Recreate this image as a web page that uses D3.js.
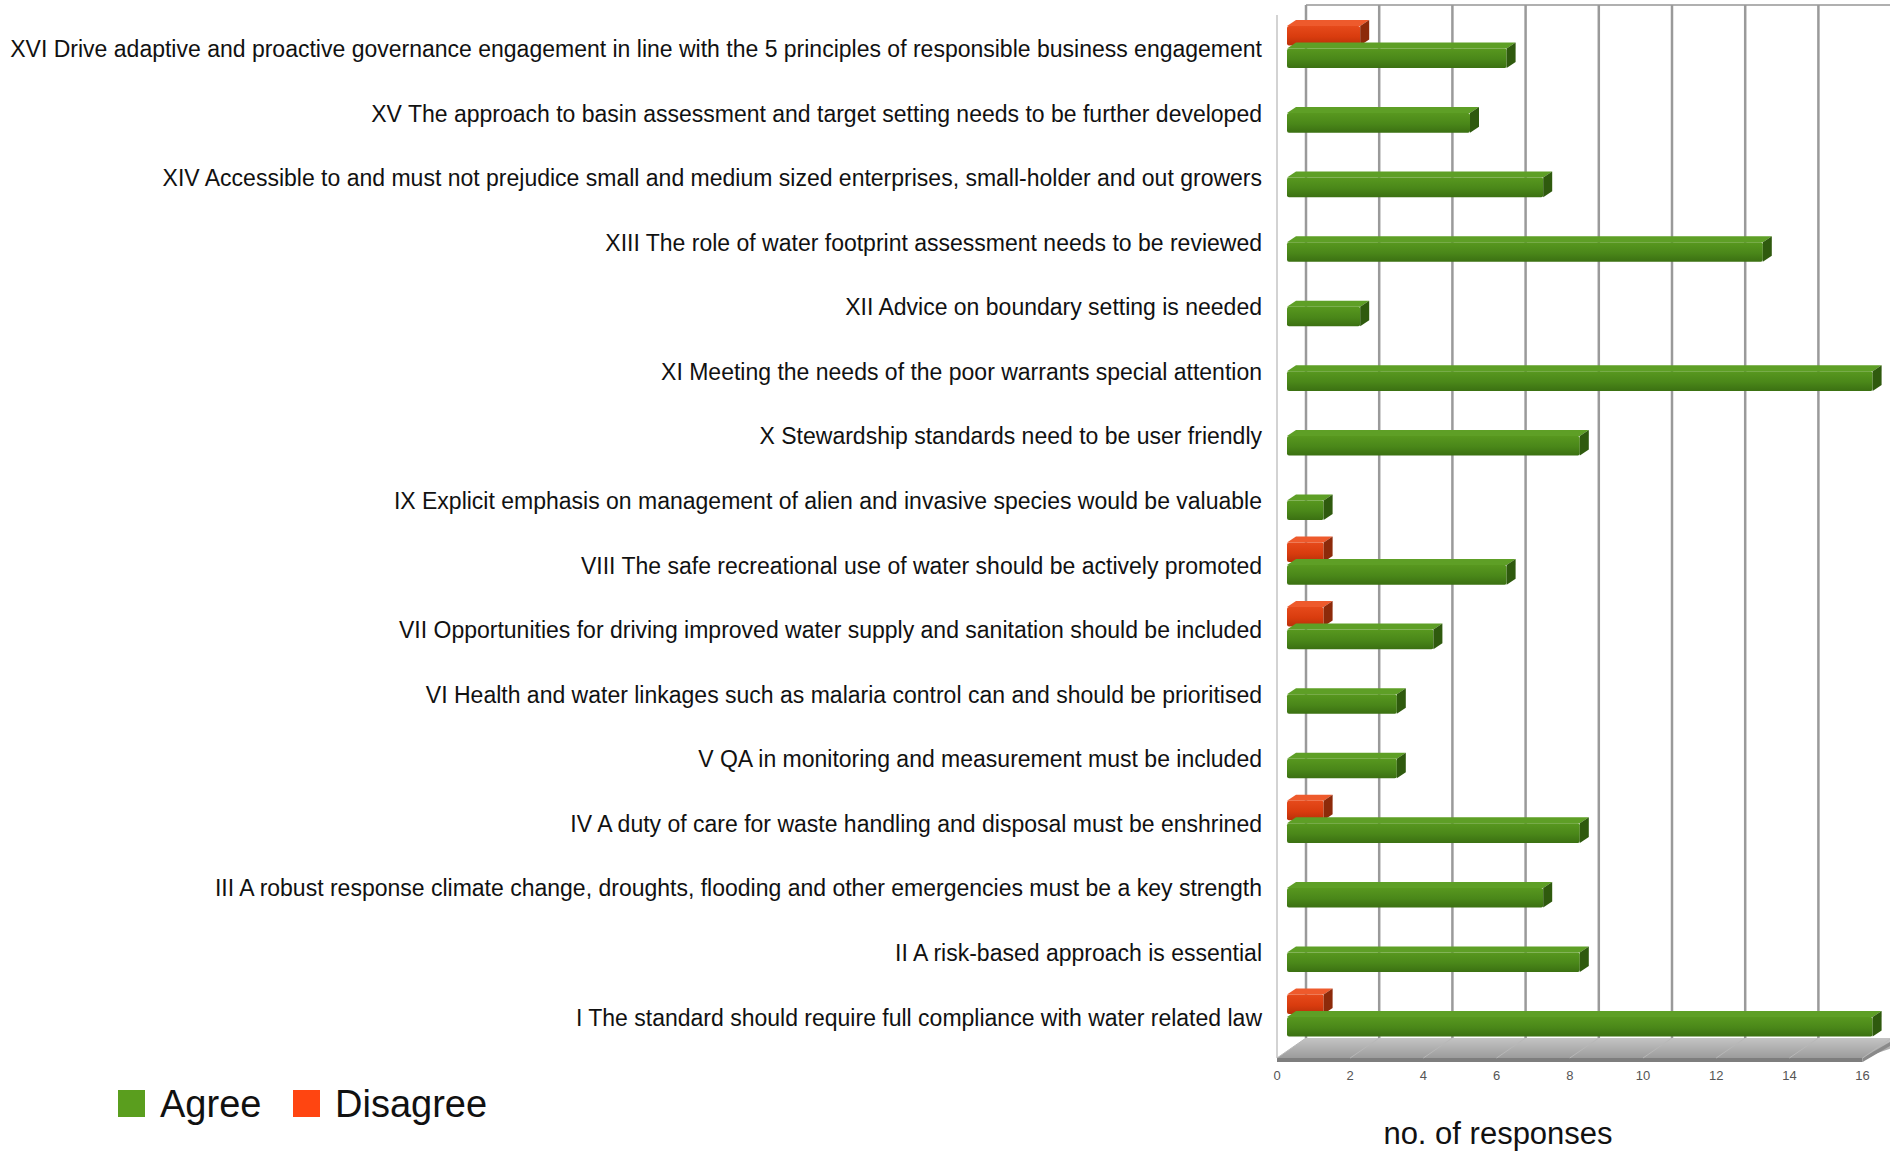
<!DOCTYPE html>
<html>
<head>
<meta charset="utf-8">
<script src="https://cdn.jsdelivr.net/npm/d3@7"></script>
<style>
  body { margin: 0; background: #ffffff; }
  svg text { font-family: "Liberation Sans", Arial, sans-serif; }
</style>
</head>
<body>
<div id="svgContainer"></div>
<script>
// data, top row first
var categories = [
    "XVI Drive adaptive and proactive governance engagement in line with the 5 principles of responsible business engagement",
    "XV The approach to basin assessment and target setting needs to be further developed",
    "XIV Accessible to and must not prejudice small and medium sized enterprises, small-holder and out growers",
    "XIII The role of water footprint assessment needs to be reviewed",
    "XII Advice on boundary setting is needed",
    "XI Meeting the needs of the poor warrants special attention",
    "X Stewardship standards need to be user friendly",
    "IX Explicit emphasis on management of alien and invasive species would be valuable",
    "VIII The safe recreational use of water should be actively promoted",
    "VII Opportunities for driving improved water supply and sanitation should be included",
    "VI Health and water linkages such as malaria control can and should be prioritised",
    "V QA in monitoring and measurement must be included",
    "IV A duty of care for waste handling and disposal must be enshrined",
    "III A robust response climate change, droughts, flooding and other emergencies must be a key strength",
    "II A risk-based approach is essential",
    "I The standard should require full compliance with water related law"
];
var agree    = [6, 5, 7, 13, 2, 16, 8, 1, 6, 4, 3, 3, 8, 7, 8, 16];
var disagree = [2, 0, 0, 0,  0, 0,  0, 0, 1, 1, 0, 0, 1, 0, 0, 1];
var seriesNames = ["Disagree", "Agree"];
var tickValues = [0, 2, 4, 6, 8, 10, 12, 14, 16];
var axisTitle = "no. of responses";

// layout
var width = 1890;
var height = 1153;
var frontX = 1277;      // front edge of the 3d box
var barX = 1287;        // bars sit a bit deeper in the box
var backX = 1306;       // back wall
var wallTop = 5;
var floorBack = 1038;
var floorFront = 1058;
var depthX = 9, depthY = 6;   // bar depth

var colors = {
    Agree:    { top: "#5e9f26", front: ["#58981f", "#4a8719", "#3b7012"], side: "#2f5a0e", legend: "#5a9e1e" },
    Disagree: { top: "#ee5a2c", front: ["#e64a1b", "#d93c0e", "#b93009"], side: "#8d2a0a", legend: "#ff4511" }
};

var svg = d3.select("#svgContainer")
    .append("svg")
    .attr("width", width)
    .attr("height", height);

var defs = svg.append("defs");
seriesNames.forEach(function (s) {
    var g = defs.append("linearGradient")
        .attr("id", "grad" + s)
        .attr("x1", 0).attr("y1", 0).attr("x2", 0).attr("y2", 1);
    g.append("stop").attr("offset", "0%").attr("stop-color", colors[s].front[0]);
    g.append("stop").attr("offset", "55%").attr("stop-color", colors[s].front[1]);
    g.append("stop").attr("offset", "100%").attr("stop-color", colors[s].front[2]);
});
var fg = defs.append("linearGradient")
    .attr("id", "floorGrad")
    .attr("x1", 0).attr("y1", 0).attr("x2", 0).attr("y2", 1);
fg.append("stop").attr("offset", "0%").attr("stop-color", "#c4c4c4");
fg.append("stop").attr("offset", "100%").attr("stop-color", "#9c9c9c");

var x = d3.scaleLinear().domain([0, 16]).range([0, 585.6]);

var y = d3.scaleBand()
    .domain(categories)
    .range([10.2, 1043.3])
    .paddingInner(0.3)
    .paddingOuter(0.15);

var ySub = d3.scaleBand()
    .domain(seriesNames)
    .range([0, y.bandwidth()]);

// back wall and grid
var wall = svg.append("g").attr("class", "Wall");

wall.append("line")
    .attr("x1", backX).attr("y1", wallTop)
    .attr("x2", width).attr("y2", wallTop)
    .attr("stroke", "#b0b0b0")
    .attr("stroke-width", 2);

wall.selectAll(".GridLine")
    .data(tickValues)
    .enter()
    .append("line")
    .attr("class", "GridLine")
    .attr("x1", function (d) { return backX + x(d); })
    .attr("x2", function (d) { return backX + x(d); })
    .attr("y1", wallTop)
    .attr("y2", floorBack)
    .attr("stroke", "#9a9a9a")
    .attr("stroke-width", 2.5);

wall.append("line")
    .attr("x1", frontX).attr("y1", 15)
    .attr("x2", frontX).attr("y2", floorFront)
    .attr("stroke", "#c4c4c4")
    .attr("stroke-width", 1.5);

// floor
var floorG = svg.append("g").attr("class", "Floor");
var fRight = frontX + x(16);

floorG.append("polygon")
    .attr("points", [
        [backX, floorBack], [backX + x(16) + 30, floorBack],
        [fRight, floorFront], [frontX, floorFront]
    ].join(" "))
    .attr("fill", "url(#floorGrad)");

floorG.append("polygon")
    .attr("points", [
        [frontX, floorFront], [fRight, floorFront],
        [fRight, floorFront + 4], [frontX, floorFront + 4]
    ].join(" "))
    .attr("fill", "#7e7e7e");

floorG.append("polygon")
    .attr("points", [
        [fRight, floorFront], [width, floorBack + 4],
        [width, floorBack + 8], [fRight, floorFront + 4]
    ].join(" "))
    .attr("fill", "#8a8a8a");

floorG.selectAll(".FloorLine")
    .data(tickValues)
    .enter()
    .append("line")
    .attr("class", "FloorLine")
    .attr("x1", function (d) { return backX + x(d); })
    .attr("y1", floorBack)
    .attr("x2", function (d) { return frontX + x(d); })
    .attr("y2", floorFront)
    .attr("stroke", "#b8b8b8")
    .attr("stroke-width", 1);

// bars
var rows = categories.map(function (c, i) {
    return { cat: c, Agree: agree[i], Disagree: disagree[i] };
});

var barData = [];
seriesNames.forEach(function (s) {
    rows.forEach(function (r) {
        if (r[s] > 0) barData.push({ cat: r.cat, series: s, value: r[s] });
    });
});

var barH = ySub.bandwidth() + 3;

var bars = svg.selectAll(".Bar")
    .data(barData)
    .enter()
    .append("g")
    .attr("class", "Bar");

// top face
bars.append("polygon")
    .attr("points", function (d) {
        var y0 = y(d.cat) + ySub(d.series);
        var x1 = barX + x(d.value);
        return [[barX, y0 + depthY], [barX + depthX, y0], [x1 + depthX, y0], [x1, y0 + depthY]].join(" ");
    })
    .attr("fill", function (d) { return colors[d.series].top; });

// front face
bars.append("rect")
    .attr("x", barX)
    .attr("y", function (d) { return y(d.cat) + ySub(d.series) + depthY; })
    .attr("width", function (d) { return x(d.value); })
    .attr("height", barH - depthY)
    .attr("rx", 2)
    .attr("fill", function (d) { return "url(#grad" + d.series + ")"; });

// side face
bars.append("polygon")
    .attr("points", function (d) {
        var y0 = y(d.cat) + ySub(d.series);
        var x1 = barX + x(d.value);
        return [[x1, y0 + depthY], [x1 + depthX, y0], [x1 + depthX, y0 + barH - depthY], [x1, y0 + barH]].join(" ");
    })
    .attr("fill", function (d) { return colors[d.series].side; });

// category labels
svg.selectAll(".CatLabel")
    .data(categories)
    .enter()
    .append("text")
    .attr("class", "CatLabel")
    .attr("x", 1262)
    .attr("y", function (d) { return y(d) + y.bandwidth() / 2 + 6.5; })
    .attr("dy", "0.35em")
    .attr("text-anchor", "end")
    .style("font-size", "23px")
    .style("fill", "#111")
    .text(function (d) { return d; });

// tick labels
svg.selectAll(".TickLabel")
    .data(tickValues)
    .enter()
    .append("text")
    .attr("class", "TickLabel")
    .attr("x", function (d) { return frontX + x(d); })
    .attr("y", 1075)
    .attr("dy", "0.35em")
    .attr("text-anchor", "middle")
    .style("font-size", "13px")
    .style("fill", "#555")
    .text(function (d) { return d; });

svg.append("text")
    .attr("x", 1498)
    .attr("y", 1133)
    .attr("dy", "0.35em")
    .attr("text-anchor", "middle")
    .style("font-size", "31px")
    .style("fill", "#111")
    .text(axisTitle);

// legend
var legendItems = [
    { name: "Agree", x: 118 },
    { name: "Disagree", x: 293 }
];
var legend = svg.selectAll(".Legend")
    .data(legendItems)
    .enter()
    .append("g")
    .attr("class", "Legend")
    .attr("transform", function (d) { return "translate(" + d.x + ",1090)"; });

legend.append("rect")
    .attr("width", 27)
    .attr("height", 27)
    .attr("fill", function (d) { return colors[d.name].legend; });

legend.append("text")
    .attr("x", 42)
    .attr("y", 14)
    .attr("dy", "0.35em")
    .style("font-size", "38px")
    .style("fill", "#111")
    .text(function (d) { return d.name; });
</script>
</body>
</html>
